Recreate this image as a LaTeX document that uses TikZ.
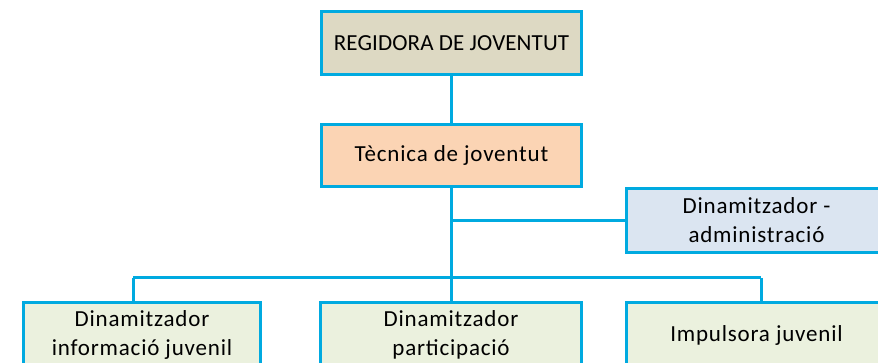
\documentclass[tikz,border=0pt]{standalone}
\usepackage{fontspec}
\setmainfont{Carlito}[LetterSpace=3.5]
\newfontfamily\capsfont{Carlito}[LetterSpace=0.5]
\definecolor{linec}{HTML}{00AAE0}
\definecolor{fillA}{HTML}{DDD9C3}
\definecolor{fillB}{HTML}{FBD4B4}
\definecolor{fillC}{HTML}{DBE5F1}
\definecolor{fillD}{HTML}{EBF1DE}
\begin{document}
\begin{tikzpicture}[x=1pt,y=-1pt,
  orgbox/.style={draw=linec, line width=3pt, rectangle, inner sep=0pt, align=center,
    font=\fontsize{23}{29}\selectfont, text=black},
  conn/.style={draw=linec, line width=3pt}]
\useasboundingbox (0,0) rectangle (878,363);
\clip (0,0) rectangle (878,363);
\node[orgbox, fill=fillA, minimum width=260pt, minimum height=63pt, font=\capsfont\fontsize{23}{29}\selectfont] (reg) at (451.5,43) {REGIDORA DE JOVENTUT};
\node[orgbox, fill=fillB, minimum width=260pt, minimum height=62pt] (tec) at (451.5,155.5) {Tècnica de joventut};
\node[orgbox, fill=fillC, minimum width=260pt, minimum height=64pt] (adm) at (756.5,220.5) {Dinamitzador -\\administració};
\node[orgbox, fill=fillD, minimum width=237pt, minimum height=65pt] (inf) at (142,335) {Dinamitzador\\informació juvenil};
\node[orgbox, fill=fillD, minimum width=261pt, minimum height=65pt] (par) at (451,335) {Dinamitzador\\participació};
\node[orgbox, fill=fillD, minimum width=260pt, minimum height=65pt] (imp) at (756.5,335) {Impulsora juvenil};
\coordinate (bus) at (451,278);
\coordinate (adj) at (451,221);
\draw[conn] (reg.south -| bus) -- (tec.north -| bus);
\draw[conn] (tec.south -| bus) -- (bus);
\draw[conn] (adj) -- (adj -| adm.west);
\draw[conn] (bus -| 133,0) -- (bus -| 761,0);
\draw[conn] (bus -| 133,0) -- (inf.north -| 133,0);
\draw[conn] (bus) -- (par.north -| bus);
\draw[conn] (bus -| 761,0) -- (imp.north -| 761,0);
\end{tikzpicture}
\end{document}
